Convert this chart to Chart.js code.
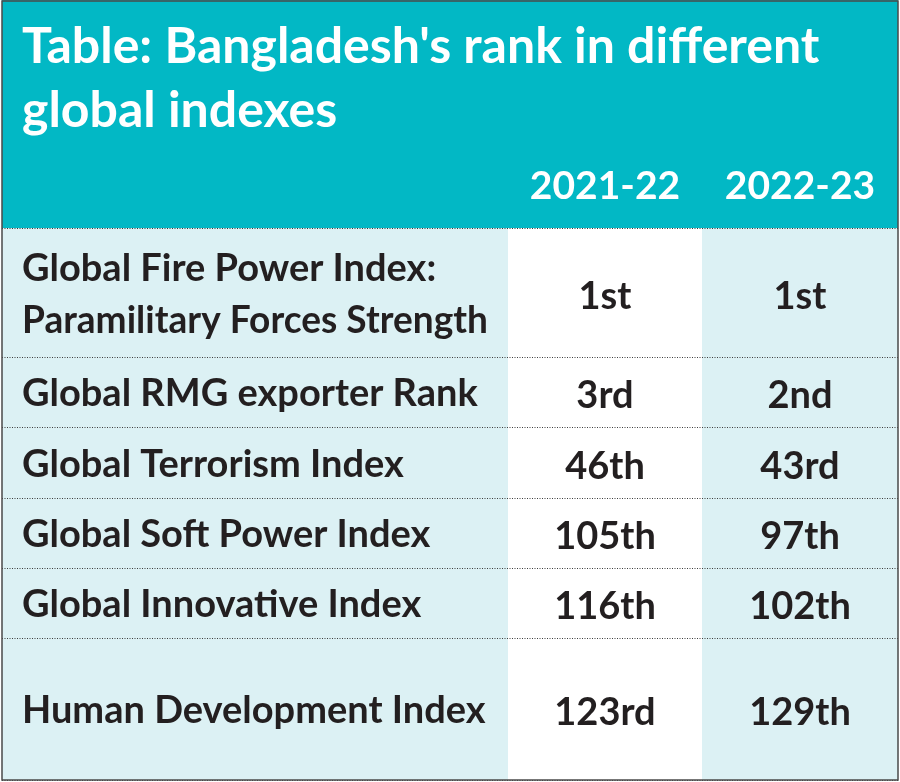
<!DOCTYPE html>
<html>
<head>
<meta charset="utf-8">
<title>Bangladesh's rank in different global indexes</title>
<script src="https://cdn.jsdelivr.net/npm/chart.js@4/dist/chart.umd.min.js"></script>
<style>
  html, body { margin: 0; padding: 0; background: #ffffff; }
  #wrap { width: 900px; height: 782px; }
</style>
</head>
<body>
<div id="wrap"><canvas id="rankTable" width="900" height="782"></canvas></div>
<script>
// table content
const titleLines = ["Table: Bangladesh's rank in different", "global indexes"];
const years = ["2021-22", "2022-23"];
const indexNames = [
  ["Global Fire Power Index:", "Paramilitary Forces Strength"],
  ["Global RMG exporter Rank"],
  ["Global Terrorism Index"],
  ["Global Soft Power Index"],
  ["Global Innovative Index"],
  ["Human Development Index"],
];
const rank2021 = ["1st", "3rd", "46th", "105th", "116th", "123rd"];
const rank2022 = ["1st", "2nd", "43rd", "97th", "102th", "129th"];

// layout (in scale units, the scales map 1:1 to the canvas)
const colEdges = [2, 508, 702, 898];
const rowEdges = [228, 357, 427, 498, 568, 638, 780];

const teal = "#02b8c5";
const lightCell = "#dcf1f4";
const whiteCell = "#ffffff";
const textColor = "#231f20";

const tablePlugin = {
  id: "tablePlugin",
  afterDraw(chart) {
    const ctx = chart.ctx;
    const x = chart.scales.x;
    const y = chart.scales.y;
    const px = (v) => x.getPixelForValue(v);
    const py = (v) => y.getPixelForValue(v);

    ctx.save();

    // header band
    ctx.fillStyle = teal;
    ctx.fillRect(px(colEdges[0]), py(0), px(colEdges[3]) - px(colEdges[0]), py(rowEdges[0]) - py(0));

    // body columns
    const bodyTop = py(rowEdges[0]);
    const bodyBottom = py(rowEdges[rowEdges.length - 1]);
    [lightCell, whiteCell, lightCell].forEach((c, i) => {
      ctx.fillStyle = c;
      ctx.fillRect(px(colEdges[i]), bodyTop, px(colEdges[i + 1]) - px(colEdges[i]), bodyBottom - bodyTop);
    });

    // title
    ctx.fillStyle = "#ffffff";
    ctx.textBaseline = "alphabetic";
    ctx.textAlign = "left";
    ctx.font = "bold 50px Lato";
    titleLines.forEach((line, i) => {
      ctx.fillText(line, px(22), py(63 + i * 64), px(845) - px(22));
    });

    // year headers
    ctx.font = "bold 39px Lato";
    ctx.textAlign = "center";
    years.forEach((yr, i) => {
      const cx = (px(colEdges[i + 1]) + px(colEdges[i + 2])) / 2;
      ctx.fillText(yr, cx, py(199));
    });

    // rows
    ctx.fillStyle = textColor;
    ctx.font = "bold 38px Lato";
    indexNames.forEach((lines, r) => {
      const mid = (rowEdges[r] + rowEdges[r + 1]) / 2;
      ctx.textAlign = "left";
      lines.forEach((line, k) => {
        const base = mid + 14 + (k - (lines.length - 1) / 2) * 52;
        ctx.fillText(line, px(22), py(base), px(488) - px(22));
      });
      ctx.textAlign = "center";
      [rank2021[r], rank2022[r]].forEach((v, i) => {
        const cx = (px(colEdges[i + 1]) + px(colEdges[i + 2])) / 2;
        ctx.fillText(v, cx, py(mid + 16));
      });
    });

    // dotted row dividers
    ctx.strokeStyle = "#3d3d3d";
    ctx.lineWidth = 1;
    ctx.setLineDash([1, 1.5]);
    rowEdges.forEach((e) => {
      const yy = Math.round(py(e)) + 0.5;
      ctx.beginPath();
      ctx.moveTo(px(colEdges[0]), yy);
      ctx.lineTo(px(colEdges[3]), yy);
      ctx.stroke();
    });

    // outer frame
    ctx.setLineDash([]);
    ctx.strokeStyle = "#4a4a4a";
    ctx.lineWidth = 1.5;
    ctx.strokeRect(px(colEdges[0]), py(1), px(colEdges[3]) - px(colEdges[0]), py(rowEdges[6]) - py(1));

    ctx.restore();
  },
};

const ctx = document.getElementById("rankTable");
const rankChart = new Chart(ctx, {
  type: "scatter",
  data: { datasets: [{ data: [] }] },
  options: {
    responsive: false,
    animation: false,
    devicePixelRatio: 1,
    layout: { padding: 0 },
    plugins: {
      legend: { display: false },
      tooltip: { enabled: false },
    },
    scales: {
      x: { type: "linear", min: 0, max: 900, display: false },
      y: { type: "linear", min: 0, max: 782, reverse: true, display: false },
    },
  },
  plugins: [tablePlugin],
});
</script>
</body>
</html>
